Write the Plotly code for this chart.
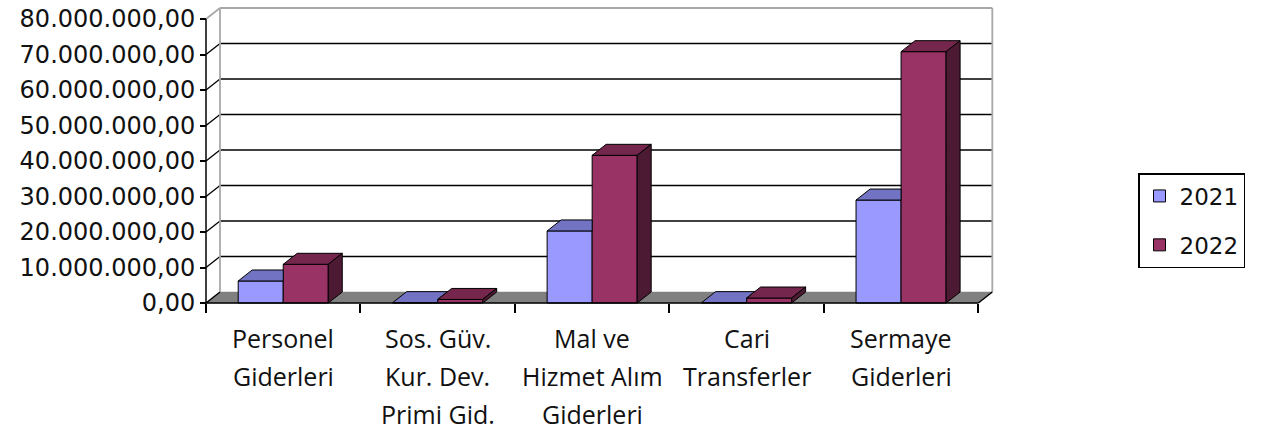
import plotly.graph_objects as go

# ---------------- data ----------------
categories = ["Personel Giderleri", "Sos. Güv. Kur. Dev. Primi Gid.",
              "Mal ve Hizmet Alım Giderleri", "Cari Transferler", "Sermaye Giderleri"]
category_lines = [["Personel", "Giderleri"],
                  ["Sos. Güv.", "Kur. Dev.", "Primi Gid."],
                  ["Mal ve", "Hizmet Alım", "Giderleri"],
                  ["Cari", "Transferler"],
                  ["Sermaye", "Giderleri"]]
series_names = ["2021", "2022"]
values_2021 = [6.2e6, 0.1e6, 20.3e6, 0.1e6, 29.0e6]
values_2022 = [10.9e6, 1.0e6, 41.6e6, 1.4e6, 70.8e6]
y_tick_values = [0, 10e6, 20e6, 30e6, 40e6, 50e6, 60e6, 70e6, 80e6]

# ---------------- styling / geometry ----------------
W, H = 1263, 430
PX_X0 = 206.0        # pixel of x = -0.5 (front left corner)
PX_PER_X = 154.46    # pixels per category
PX_Y0 = 303.0        # pixel of value 0 (front floor edge)
PX_PER_V = 3.55e-6   # pixels per unit value
L, R, T, B = 196, 998, 4, 308  # plot area in pixels

DEPTH_PX_X, DEPTH_PX_Y = 14.0, 11.0
ddx = DEPTH_PX_X / PX_PER_X
ddy = DEPTH_PX_Y / PX_PER_V

x_range = [-0.5 - (PX_X0 - L) / PX_PER_X, -0.5 + (R - PX_X0) / PX_PER_X]
y_range = [-(B - PX_Y0) / PX_PER_V, (PX_Y0 - T) / PX_PER_V]

BARGAP = 0.417
bw = (1 - BARGAP) / 2

C21_FRONT, C21_TOP = "#9999FF", "#7373C4"
C22_FRONT, C22_TOP, C22_SIDE = "#993366", "#74264D", "#4D1A33"

xs = list(range(len(categories)))
fig = go.Figure()

fig.add_trace(go.Bar(x=xs, y=values_2021, name=series_names[0], legendgroup="a",
                     marker=dict(color=C21_FRONT, line=dict(color="black", width=1)),
                     hoverinfo="skip"))
fig.add_trace(go.Bar(x=xs, y=values_2022, name=series_names[1], legendgroup="b",
                     marker=dict(color=C22_FRONT, line=dict(color="black", width=1)),
                     hoverinfo="skip"))

# 3D faces computed from the data
top21_x, top21_y, top22_x, top22_y, side22_x, side22_y = [], [], [], [], [], []
for c, v1, v2 in zip(xs, values_2021, values_2022):
    x0, x1, x2 = c - bw, c, c + bw
    cc = min(max(v2 - v1, 0), ddy)
    top21_x += [x0, x1, x1, x1 + ddx * (1 - cc / ddy), x0 + ddx, x0, None]
    top21_y += [v1, v1, v1 + cc, v1 + ddy, v1 + ddy, v1, None]
    top22_x += [x1, x2, x2 + ddx, x1 + ddx, x1, None]
    top22_y += [v2, v2, v2 + ddy, v2 + ddy, v2, None]
    side22_x += [x2, x2 + ddx, x2 + ddx, x2, x2, None]
    side22_y += [0, ddy, v2 + ddy, v2, 0, None]

for px, py, col in [(top21_x, top21_y, C21_TOP), (top22_x, top22_y, C22_TOP),
                    (side22_x, side22_y, C22_SIDE)]:
    fig.add_trace(go.Scatter(x=px, y=py, mode="lines", fill="toself", fillcolor=col,
                             line=dict(color="black", width=1), showlegend=False,
                             hoverinfo="skip"))

# walls, floor, gridlines
xl, xr = -0.5, len(categories) - 0.5
shapes = []
GRAY = "#A8A8A8"
shapes.append(dict(type="path", xref="x", yref="y", layer="below",
                   path=f"M{xl},0 L{xr},0 L{xr+ddx},{ddy} L{xl+ddx},{ddy} Z",
                   fillcolor="#808080", line=dict(color="#808080", width=0.5)))
top_v = y_tick_values[-1]
for v in y_tick_values[1:-1]:
    shapes.append(dict(type="line", xref="x", yref="y", layer="below",
                       x0=xl + ddx, x1=xr + ddx, y0=v + ddy, y1=v + ddy,
                       line=dict(color="black", width=1.3)))
    shapes.append(dict(type="line", xref="x", yref="y", layer="below",
                       x0=xl, x1=xl + ddx, y0=v, y1=v + ddy,
                       line=dict(color="black", width=1.3)))
for (a, b, c_, d) in [(xl + ddx, xr + ddx, top_v + ddy, top_v + ddy),
                      (xl, xl + ddx, top_v, top_v + ddy),
                      (xl + ddx, xl + ddx, ddy, top_v + ddy),
                      (xr + ddx, xr + ddx, ddy, top_v + ddy)]:
    shapes.append(dict(type="line", xref="x", yref="y", layer="below",
                       x0=a, x1=b, y0=c_, y1=d, line=dict(color=GRAY, width=1.8)))
# floor edges and front axis lines
for (a, b, c_, d) in [(xl, xl + ddx, 0, ddy), (xr, xr + ddx, 0, ddy),
                      (xl, xr, 0, 0), (xl, xl, 0, top_v)]:
    shapes.append(dict(type="line", xref="x", yref="y", layer="above",
                       x0=a, x1=b, y0=c_, y1=d, line=dict(color="black", width=1.5)))

# category labels, one line per annotation (centre of each line in pixels)
annotations = []
LINE_GAP = 38.0
FIRST_CENTER = 338.0
for c, lines in zip(xs, category_lines):
    for i, t in enumerate(lines):
        annotations.append(dict(x=c, xref="x", y=0, yref="paper", yanchor="middle",
                                yshift=-(FIRST_CENTER + i * LINE_GAP - B),
                                text=t, showarrow=False,
                                font=dict(family="Open Sans", size=25, color="#111111")))

plot_h = B - T
fig.update_layout(
    width=W, height=H,
    margin=dict(l=L, r=W - R, t=T, b=H - B, pad=0, autoexpand=False),
    paper_bgcolor="white", plot_bgcolor="white",
    barmode="group", bargap=BARGAP, bargroupgap=0,
    separators=",.",
    shapes=shapes, annotations=annotations,
    showlegend=True,
    legend=dict(x=(1138 - L) / (R - L), xanchor="left",
                y=(B - 173) / plot_h, yanchor="top",
                bordercolor="black", borderwidth=1.5, bgcolor="white",
                font=dict(family="DejaVu Sans", size=23, color="#111111"),
                tracegroupgap=16, traceorder="grouped"),
    xaxis=dict(range=x_range, showgrid=False, zeroline=False, showline=False,
               tickvals=[i - 0.5 for i in range(len(categories) + 1)],
               showticklabels=False, ticks="outside", ticklen=9, tickwidth=1.5,
               tickcolor="black", anchor="free", position=(B - PX_Y0) / plot_h,
               automargin=False),
    yaxis=dict(range=y_range, showgrid=False, zeroline=False, showline=False,
               tickvals=y_tick_values, tickformat=",.2f", ticks="outside",
               ticklen=6, tickwidth=1.5, tickcolor="black",
               anchor="free", position=(PX_X0 - L) / (R - L), automargin=False,
               tickfont=dict(family="DejaVu Sans", size=24, color="#111111")),
)

fig.write_html("out.html", config={"displayModeBar": False},
               post_script="document.body.style.margin='0';")
